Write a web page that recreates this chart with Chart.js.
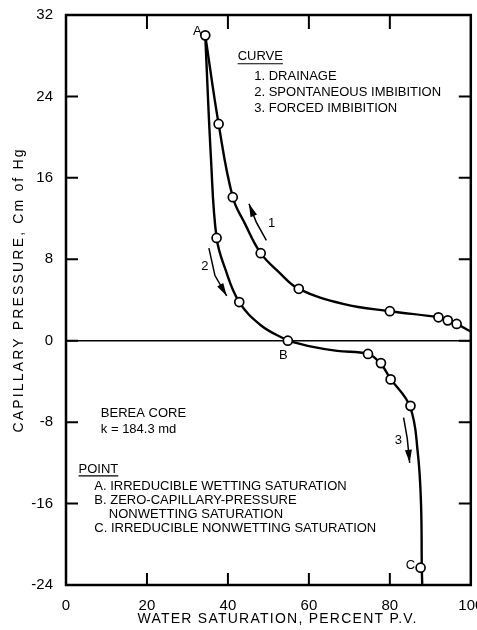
<!DOCTYPE html>
<html>
<head>
<meta charset="utf-8">
<script src="https://cdn.jsdelivr.net/npm/chart.js@4.4.1/dist/chart.umd.min.js"></script>
<style>
  html, body { margin: 0; padding: 0; background: #fff; }
</style>
</head>
<body>
<canvas id="canvas" width="477" height="630"></canvas>
<script>
// water saturation (% P.V.) / capillary pressure (cm Hg)
const drainageX = [34.4, 37.7, 41.2, 44.2, 48.1, 52.7, 57.5, 68.7, 80.0, 92.0, 94.3, 96.5, 100];
const drainageY = [30.0, 21.3, 14.1, 11.5, 8.6, 6.7, 5.1, 3.6, 2.9, 2.3, 2.0, 1.65, 0.9];
const spontX = [34.4, 35.8, 37.2, 39.3, 42.8, 48.2, 54.8];
const spontY = [30.0, 18.0, 10.1, 7.1, 3.8, 1.5, 0];
const forcedX = [54.8, 59.7, 67.0, 74.6, 77.8, 80.1, 85.0, 86.9, 87.7, 87.9, 88.0];
const forcedY = [0, -0.5, -1.0, -1.3, -2.3, -3.7, -6.5, -11.0, -16.0, -22.3, -24];

// measured points (open circles)
const pointX = [34.4, 37.7, 41.2, 48.1, 57.5, 80.0, 92.0, 94.3, 96.5, 37.2, 42.8, 54.8, 74.6, 77.8, 80.2, 85.1, 87.6];
const pointY = [30.0, 21.3, 14.1, 8.6, 5.1, 2.9, 2.3, 2.0, 1.65, 10.1, 3.8, 0, -1.3, -2.2, -3.8, -6.4, -22.3];

const xTicks = [0, 20, 40, 60, 80, 100];
const yTicks = [-24, -16, -8, 0, 8, 16, 24, 32];

const curveLegend = ["1. DRAINAGE", "2. SPONTANEOUS IMBIBITION", "3. FORCED IMBIBITION"];
const pointLegend = ["A. IRREDUCIBLE WETTING SATURATION", "B. ZERO-CAPILLARY-PRESSURE", "    NONWETTING SATURATION", "C. IRREDUCIBLE NONWETTING SATURATION"];

const FONT = '"Liberation Sans", Arial, sans-serif';

function pts(xs, ys) {
    return xs.map((x, i) => ({x: x, y: ys[i]}));
}

function curve(xs, ys) {
    return {
        type: 'line',
        data: pts(xs, ys),
        borderColor: '#000',
        borderWidth: 2.4,
        pointRadius: 0,
        tension: 0.4,
        fill: false,
        order: 2
    };
}

const decor = {
    id: 'decor',
    beforeDatasetsDraw(chart) {
        const ctx = chart.ctx, a = chart.chartArea, ys = chart.scales.y;
        ctx.save();
        ctx.strokeStyle = '#000';
        ctx.lineWidth = 1.5;
        ctx.beginPath();
        ctx.moveTo(a.left, ys.getPixelForValue(0));
        ctx.lineTo(a.right, ys.getPixelForValue(0));
        ctx.stroke();
        ctx.restore();
    },
    afterDraw(chart) {
        const ctx = chart.ctx, a = chart.chartArea;
        const xs = chart.scales.x, ys = chart.scales.y;
        const px = (x) => xs.getPixelForValue(x);
        const py = (y) => ys.getPixelForValue(y);
        ctx.save();
        ctx.strokeStyle = '#000';
        ctx.fillStyle = '#000';

        // frame
        ctx.lineWidth = 2.5;
        ctx.strokeRect(a.left, a.top, a.right - a.left, a.bottom - a.top);

        // inward tick marks
        ctx.lineWidth = 2;
        ctx.beginPath();
        xTicks.slice(1, -1).forEach(v => {
            ctx.moveTo(px(v), a.top); ctx.lineTo(px(v), a.top + 14);
            ctx.moveTo(px(v), a.bottom); ctx.lineTo(px(v), a.bottom - 12);
        });
        yTicks.slice(1, -1).forEach(v => {
            ctx.moveTo(a.left, py(v)); ctx.lineTo(a.left + 12, py(v));
            ctx.moveTo(a.right, py(v)); ctx.lineTo(a.right - 12, py(v));
        });
        ctx.stroke();

        // text
        ctx.textBaseline = 'middle';
        ctx.textAlign = 'left';
        ctx.font = '13px ' + FONT;
        const text = (t, x, y) => ctx.fillText(t, px(x), py(y));
        const underline = (t, x, y) => {
            text(t, x, y);
            const w = ctx.measureText(t).width;
            ctx.lineWidth = 1.2;
            ctx.beginPath();
            ctx.moveTo(px(x), py(y) + 7);
            ctx.lineTo(px(x) + w, py(y) + 7);
            ctx.stroke();
        };

        underline("CURVE", 42.4, 27.9);
        curveLegend.forEach((t, i) => text(t, 46.5, 26.0 - i * 1.6));

        text("BEREA CORE", 8.6, -7.15);
        text("k = 184.3 md", 8.6, -8.75);
        underline("POINT", 3.1, -12.6);
        pointLegend.forEach((t, i) => text(t, 7.0, -14.3 - i * 1.37));

        text("A", 31.4, 30.35);
        text("B", 52.6, -1.4);
        text("C", 83.9, -22.1);
        text("1", 49.9, 11.5);
        text("2", 33.4, 7.3);
        text("3", 81.2, -9.8);

        // direction arrows
        const arrow = (path) => {
            ctx.lineWidth = 1.5;
            ctx.beginPath();
            path.forEach((p, i) => i ? ctx.lineTo(px(p[0]), py(p[1])) : ctx.moveTo(px(p[0]), py(p[1])));
            ctx.stroke();
            const n = path.length;
            const x1 = px(path[n - 2][0]), y1 = py(path[n - 2][1]);
            const x2 = px(path[n - 1][0]), y2 = py(path[n - 1][1]);
            const ang = Math.atan2(y2 - y1, x2 - x1);
            ctx.beginPath();
            ctx.moveTo(x2, y2);
            ctx.lineTo(x2 - 13 * Math.cos(ang) + 3.5 * Math.sin(ang), y2 - 13 * Math.sin(ang) - 3.5 * Math.cos(ang));
            ctx.lineTo(x2 - 13 * Math.cos(ang) - 3.5 * Math.sin(ang), y2 - 13 * Math.sin(ang) + 3.5 * Math.cos(ang));
            ctx.closePath();
            ctx.fill();
        };
        arrow([[49.5, 9.85], [47.0, 11.65], [45.2, 13.45]]);
        arrow([[35.3, 9.1], [36.8, 6.4], [39.7, 4.4]]);
        arrow([[83.4, -7.55], [84.3, -9.6], [84.9, -12.0]]);

        // axis titles, letter-spaced to the width of the original
        const spaced = (t, cx, cy, width, rot) => {
            ctx.save();
            ctx.translate(cx, cy);
            ctx.rotate(rot);
            ctx.font = '14px ' + FONT;
            ctx.letterSpacing = '0px';
            const w = ctx.measureText(t).width;
            ctx.letterSpacing = ((width - w) / (t.length - 1)) + 'px';
            ctx.textAlign = 'left';
            ctx.fillText(t, -width / 2, 0);
            ctx.restore();
        };
        spaced("WATER SATURATION, PERCENT P.V.", 277, 619, 279, 0);
        spaced("CAPILLARY PRESSURE, Cm of Hg", 19, 291, 283, -Math.PI / 2);
        ctx.restore();
    }
};

const config = {
    data: {
        datasets: [
            {
                type: 'scatter',
                data: pts(pointX, pointY),
                pointRadius: 4.5,
                pointBackgroundColor: '#fff',
                pointBorderColor: '#000',
                pointBorderWidth: 1.7,
                showLine: false,
                order: 1
            },
            curve(drainageX, drainageY),
            curve(spontX, spontY),
            curve(forcedX, forcedY)
        ]
    },
    options: {
        responsive: false,
        animation: false,
        layout: { padding: { top: 15, right: 2 } },
        plugins: { legend: { display: false }, tooltip: { enabled: false } },
        scales: {
            x: {
                type: 'linear', min: 0, max: 100,
                afterBuildTicks: (s) => { s.ticks = xTicks.map(v => ({value: v})); },
                afterFit: (s) => { s.height = 45; s.paddingLeft = 0; s.paddingRight = 0; },
                grid: { display: false },
                border: { display: false },
                ticks: { color: '#000', padding: 4, maxRotation: 0, font: { family: FONT, size: 15 } }
            },
            y: {
                type: 'linear', min: -24, max: 32,
                afterBuildTicks: (s) => { s.ticks = yTicks.map(v => ({value: v})); },
                afterFit: (s) => { s.width = 66; s.paddingTop = 0; s.paddingBottom = 0; },
                grid: { display: false },
                border: { display: false },
                ticks: { color: '#000', padding: 5, font: { family: FONT, size: 15 } }
            }
        }
    },
    plugins: [decor]
};

const chart = new Chart(document.getElementById("canvas"), config);
</script>
</body>
</html>
